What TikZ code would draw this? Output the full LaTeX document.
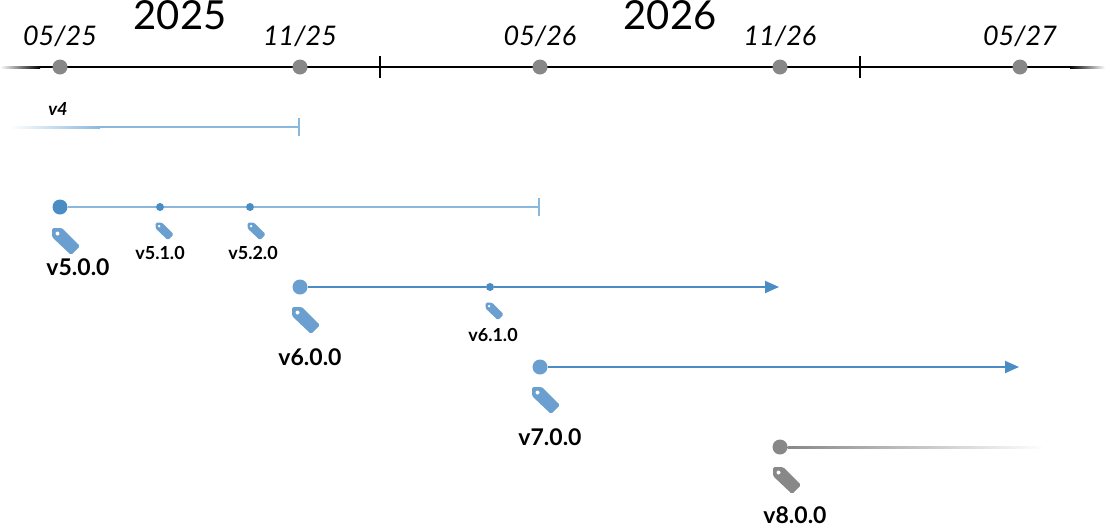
\documentclass[tikz,border=0pt]{standalone}
\usepackage{fontspec}
\setmainfont{Lato}
\usetikzlibrary{arrows.meta}
\definecolor{relblue}{HTML}{4A8CC4}
\definecolor{ltblue}{HTML}{8AB8DD}
\definecolor{tagblue}{HTML}{6A9FCF}
\definecolor{dotgray}{HTML}{888888}
\tikzset{
  month/.style={font=\fontsize{27}{29}\selectfont\itshape},
  year/.style={font=\fontsize{40}{42}\selectfont},
  big/.style={font=\fontsize{23}{25}\selectfont\bfseries},
  small/.style={font=\fontsize{18}{20}\selectfont\bfseries},
  bigdot/.style={circle, fill=#1, inner sep=0pt, minimum size=15pt},
  smalldot/.style={circle, fill=#1, inner sep=0pt, minimum size=8pt},
  rel/.style={line width=2pt},
}
% tag icon: position, scale, colour
\newcommand\tagicon[3]{%
  \begin{scope}[shift={#1}, scale=#2]
    \fill[#3, rounded corners=1.5pt] (-13,-13) -- (-3,-13) -- (15,5) -- (6,14) -- (-13,-4) -- cycle;
    \fill[white] (-7.5,-7.5) circle (2);
  \end{scope}}
\begin{document}
\begin{tikzpicture}[x=1pt, y=-1pt, >=Stealth]
  \useasboundingbox (0,0) rectangle (1110,528);
  % axis
  \shade[left color=white, right color=black] (0,66) rectangle (40,68);
  \draw[rel] (40,67) -- (1070,67);
  \shade[left color=black, right color=white] (1070,66) rectangle (1105,68);
  \foreach \x/\lab [count=\i] in {60/05\slash 25, 300/11\slash 25, 540/05\slash 26, 780/11\slash 26, 1020/05\slash 27} {
    \node[bigdot=dotgray] (m\i) at (\x,67) {};
    \node[month] at (\x,36) {\lab};
  }
  \foreach \x in {380, 860} \draw[rel] (\x,56) -- (\x,78);
  \node[year] at (180,15) {2025};
  \node[year] at (670,15) {2026};

  % v4
  \node[font=\fontsize{18}{20}\selectfont\bfseries\itshape] at (58,109) {v4};
  \coordinate (v4e) at (300,127);
  \shade[left color=white, right color=ltblue] (10,126) rectangle (100,128);
  \draw[ltblue, rel, -{Bar[width=18pt]}] (100,127) -- (v4e);

  % v5
  \node[bigdot=relblue] (v5) at (60,207) {};
  \node[smalldot=relblue] (v51) at (160,207) {};
  \node[smalldot=relblue] (v52) at (250,207) {};
  \coordinate (v5e) at (540,207);
  \draw[ltblue, rel] (v5) -- (v51) -- (v52);
  \draw[ltblue, rel, -{Bar[width=18pt]}] (v52) -- (v5e);
  \tagicon{(65,241)}{1}{tagblue}
  \tagicon{(164,231)}{0.65}{tagblue}
  \tagicon{(256,231)}{0.65}{tagblue}
  \node[big] at (78,267) {v5.0.0};
  \node[small] at (160,253) {v5.1.0};
  \node[small] at (253,253) {v5.2.0};

  % v6
  \node[bigdot=tagblue] (v6) at (300,287) {};
  \node[smalldot=relblue] (v61) at (490,287) {};
  \coordinate (v6e) at (779,287);
  \draw[relblue, rel] (v6) -- (v61);
  \draw[relblue, rel, -{Triangle[length=14pt, width=12pt]}] (v61) -- (v6e);
  \tagicon{(305,320)}{1}{tagblue}
  \tagicon{(494,311)}{0.65}{tagblue}
  \node[big] at (310,357) {v6.0.0};
  \node[small] at (493,335) {v6.1.0};

  % v7
  \node[bigdot=tagblue] (v7) at (540,367) {};
  \coordinate (v7e) at (1019,367);
  \draw[relblue, rel, -{Triangle[length=14pt, width=12pt]}] (v7) -- (v7e);
  \tagicon{(545,400)}{1}{tagblue}
  \node[big] at (550,437) {v7.0.0};

  % v8
  \node[bigdot=dotgray] (v8) at (780,447) {};
  \shade[left color=dotgray, right color=white] (v8.east) ++(0,-1) rectangle (1045,448);
  \tagicon{(786,480)}{1}{dotgray}
  \node[big] at (795,515) {v8.0.0};
\end{tikzpicture}
\end{document}
